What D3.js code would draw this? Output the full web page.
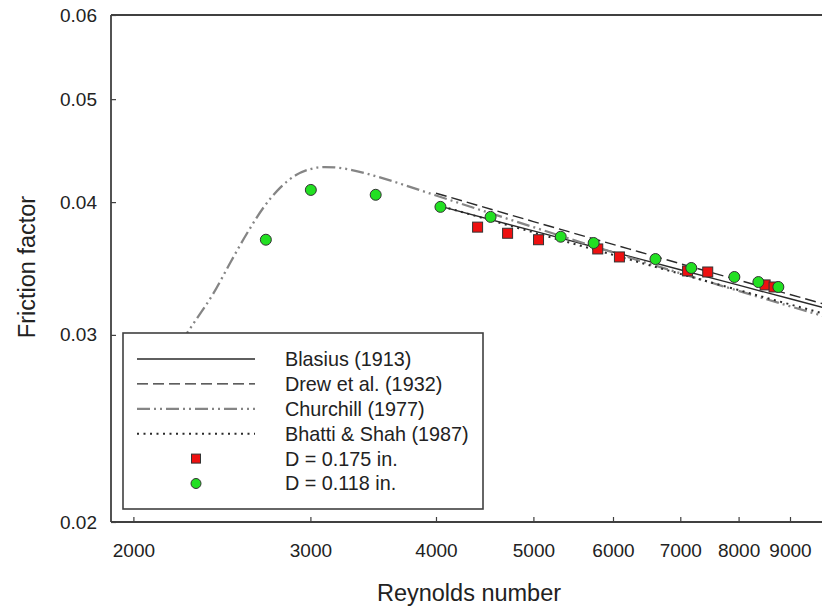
<!DOCTYPE html>
<html>
<head>
<meta charset="utf-8">
<script src="https://cdn.jsdelivr.net/npm/d3@7/dist/d3.min.js"></script>
<style>
  html, body { margin: 0; padding: 0; background: #fff; }
  svg { display: block; font-family: "Liberation Sans", Arial, sans-serif; }
</style>
</head>
<body>
<svg id="chart" width="822" height="610"></svg>
<script>
// ---- Data ----
const xTicks = [2000, 3000, 4000, 5000, 6000, 7000, 8000, 9000];
const yTicks = [0.02, 0.03, 0.04, 0.05, 0.06];

const corrRe = [4000, 5000, 6000, 7000, 8000, 9000, 10000];
const blasiusF = [0.03974, 0.03758, 0.0359, 0.03455, 0.03341, 0.03244, 0.0316];
const drewF = [0.04078, 0.03835, 0.0365, 0.03501, 0.03378, 0.03274, 0.03184];
const bhattiF = [0.03978, 0.03746, 0.03568, 0.03424, 0.03306, 0.03205, 0.03119];

const churchillRe = [2230, 2300, 2400, 2500, 2600, 2700, 2800, 2900, 3000, 3100, 3200, 3300, 3500, 3700, 4000, 4500, 5000, 6000, 7000, 8000, 9000, 10000];
const churchillF = [0.02953, 0.03084, 0.03277, 0.03515, 0.03751, 0.03964, 0.04128, 0.04239, 0.04297, 0.04316, 0.04309, 0.04288, 0.04226, 0.04158, 0.04058, 0.03913, 0.03789, 0.03587, 0.03429, 0.033, 0.03192, 0.031];

const redRe = [4400, 4713, 5059, 5794, 6089, 7118, 7454, 8501, 8677];
const redF = [0.03789, 0.03739, 0.03687, 0.03614, 0.03552, 0.03446, 0.03438, 0.03343, 0.03328];

const greenRe = [2709, 3003, 3484, 4041, 4533, 5323, 5740, 6613, 7178, 7923, 8371, 8763];
const greenF = [0.03687, 0.04107, 0.04064, 0.03959, 0.03874, 0.03711, 0.03661, 0.03536, 0.03468, 0.03401, 0.03364, 0.03328];

const legendLabels = ["Blasius (1913)", "Drew et al. (1932)", "Churchill (1977)", "Bhatti & Shah (1987)", "D = 0.175 in.", "D = 0.118 in."];

// ---- Chart ----
(function () {
const svg = d3.select("#chart");
const pLeft = 111, pRight = 836, pTop = 15, pBottom = 522;

const x = d3.scaleLog().domain([1900, 10000]).range([pLeft, pRight]);
const y = d3.scaleLog().domain([0.02, 0.06]).range([pBottom, pTop]);

const axisColor = "#404040";
const textColor = "#222";

// frame: top line
svg.append("line").attr("x1", pLeft).attr("x2", 830).attr("y1", pTop).attr("y2", pTop)
  .attr("stroke", axisColor).attr("stroke-width", 1.8);

const xAxis = svg.append("g").attr("transform", `translate(0,${pBottom})`)
  .call(d3.axisBottom(x).tickValues(xTicks).tickFormat(d3.format("d")).tickSizeInner(-5).tickSizeOuter(0).tickPadding(22));
const yAxis = svg.append("g").attr("transform", `translate(${pLeft},0)`)
  .call(d3.axisLeft(y).tickValues(yTicks).tickFormat(d3.format(".2f")).tickSizeInner(-5).tickSizeOuter(0).tickPadding(14));

[xAxis, yAxis].forEach(g => {
  g.select(".domain").attr("stroke", axisColor).attr("stroke-width", 1.8);
  g.selectAll(".tick line").attr("stroke", axisColor).attr("stroke-width", 1.2);
  g.selectAll(".tick text").attr("fill", textColor).style("font-size", "19px")
    .style("font-family", "'Liberation Sans', Arial, sans-serif");
});
xAxis.select(".domain").attr("d", `M${pLeft},0H830`);
yAxis.select(".domain").attr("d", `M0,${pTop}V${pBottom}`);

// axis titles
svg.append("text").attr("x", 469).attr("y", 601).attr("text-anchor", "middle")
  .attr("fill", textColor).style("font-size", "23.5px").text("Reynolds number");
svg.append("text").attr("transform", "translate(35,267) rotate(-90)").attr("text-anchor", "middle")
  .attr("fill", textColor).style("font-size", "23.5px").text("Friction factor");

// line styles
const styles = [
  { stroke: "#2a2a2a", width: 1.4, dash: null },
  { stroke: "#2a2a2a", width: 1.4, dash: "11,5" },
  { stroke: "#858585", width: 2.3, dash: "13,4,2,4,2,4" },
  { stroke: "#2a2a2a", width: 2, dash: "2,4.5" }
];

const line = d3.line().x(d => x(d[0])).y(d => y(d[1])).curve(d3.curveMonotoneX);

const seriesLines = [
  d3.zip(corrRe, blasiusF),
  d3.zip(corrRe, drewF),
  d3.zip(churchillRe, churchillF),
  d3.zip(corrRe, bhattiF)
];

seriesLines.forEach((data, i) => {
  svg.append("path").datum(data).attr("d", line)
    .attr("fill", "none").attr("stroke", styles[i].stroke)
    .attr("stroke-width", styles[i].width)
    .attr("stroke-dasharray", styles[i].dash);
});

// markers
const redColor = "#ee1010", greenColor = "#22e022", markerStroke = "#333";
const sq = 10, rad = 5.5;
svg.append("g").selectAll("rect").data(d3.zip(redRe, redF)).join("rect")
  .attr("x", d => x(d[0]) - sq / 2).attr("y", d => y(d[1]) - sq / 2)
  .attr("width", sq).attr("height", sq)
  .attr("fill", redColor).attr("stroke", markerStroke).attr("stroke-width", 1);
svg.append("g").selectAll("circle").data(d3.zip(greenRe, greenF)).join("circle")
  .attr("cx", d => x(d[0])).attr("cy", d => y(d[1])).attr("r", rad)
  .attr("fill", greenColor).attr("stroke", markerStroke).attr("stroke-width", 1);

// legend
const lg = svg.append("g");
lg.append("rect").attr("x", 123).attr("y", 333).attr("width", 360).attr("height", 176)
  .attr("fill", "#fff").attr("stroke", axisColor).attr("stroke-width", 1.6);

legendLabels.forEach((label, i) => {
  const ry = 359 + i * 24.9;
  if (i < 4) {
    lg.append("line").attr("x1", 137).attr("x2", 255).attr("y1", ry).attr("y2", ry)
      .attr("stroke", styles[i].stroke).attr("stroke-width", styles[i].width)
      .attr("stroke-dasharray", styles[i].dash);
  } else if (i === 4) {
    lg.append("rect").attr("x", 196 - 4.5).attr("y", ry - 4.5).attr("width", 9).attr("height", 9)
      .attr("fill", redColor).attr("stroke", markerStroke).attr("stroke-width", 1);
  } else {
    lg.append("circle").attr("cx", 196).attr("cy", ry).attr("r", 5)
      .attr("fill", greenColor).attr("stroke", markerStroke).attr("stroke-width", 1);
  }
  lg.append("text").attr("x", 285).attr("y", ry).attr("dy", "0.35em")
    .attr("fill", textColor).style("font-size", "19.8px").text(label);
});
})();
</script>
</body>
</html>
